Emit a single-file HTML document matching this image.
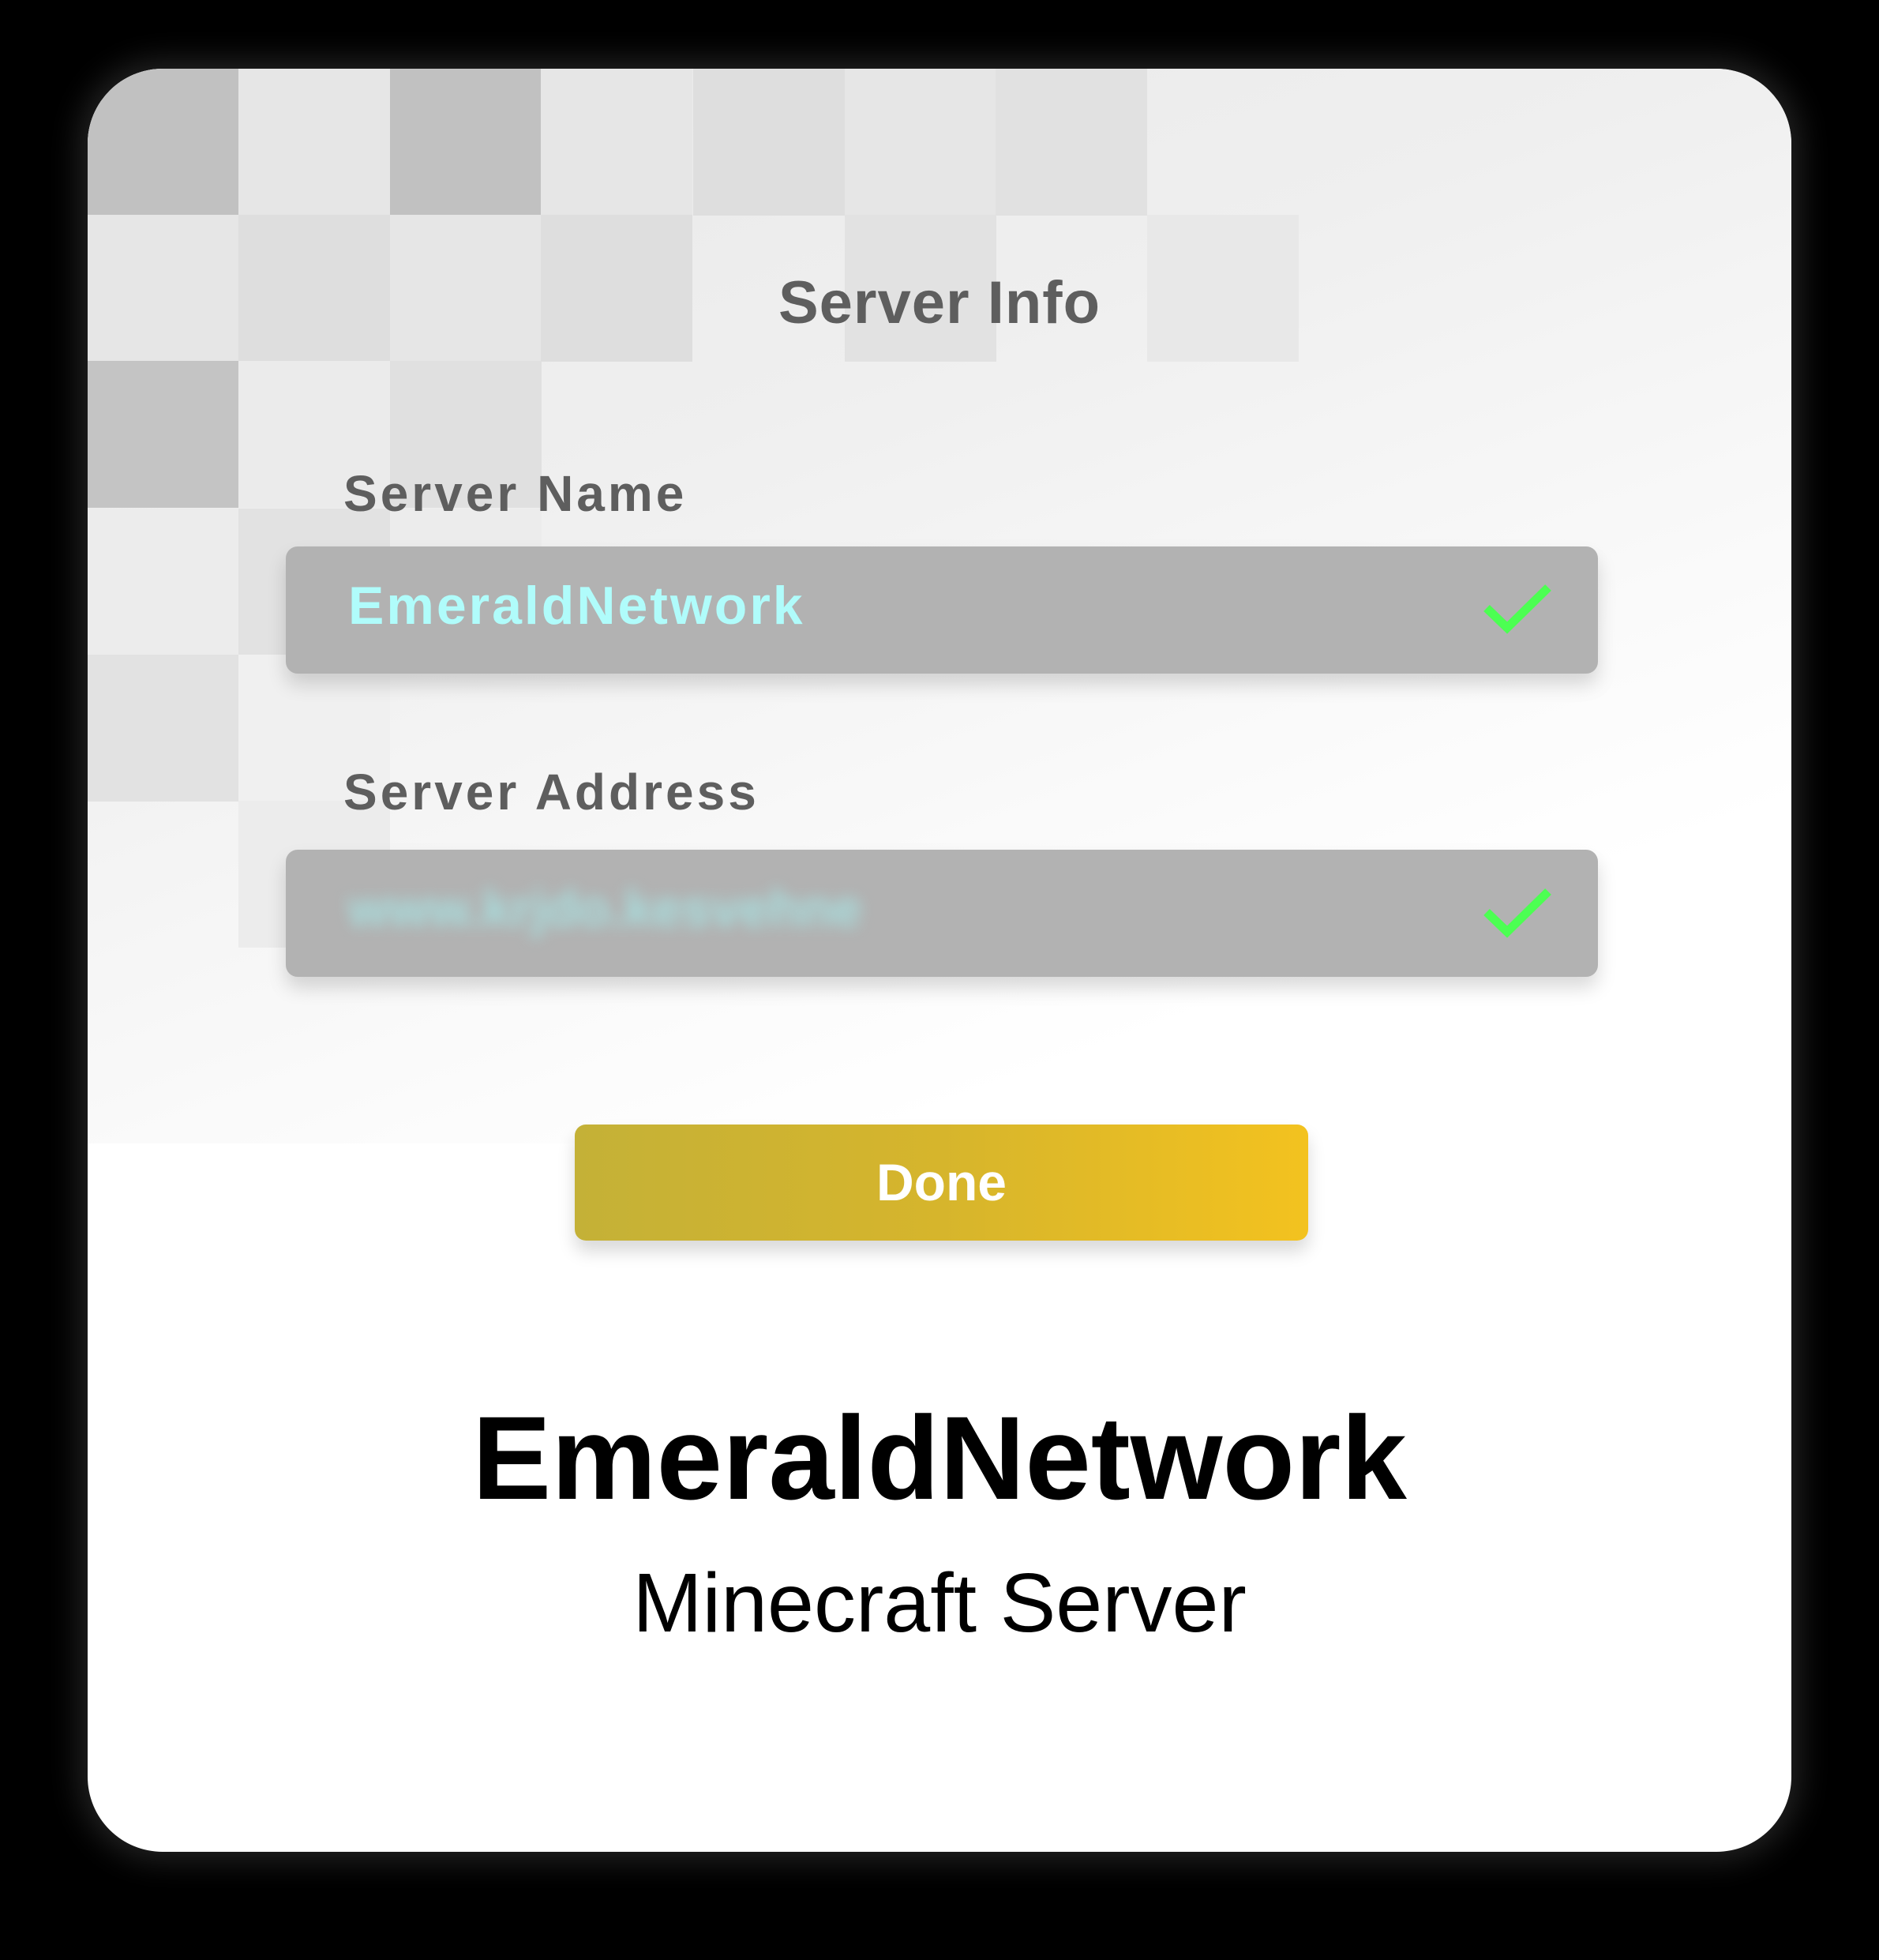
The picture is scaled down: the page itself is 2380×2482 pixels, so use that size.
<!DOCTYPE html>
<html><head><style>
html,body{margin:0;padding:0;background:#000;width:2380px;height:2482px;overflow:hidden;font-family:"Liberation Sans",sans-serif}
.card{position:absolute;left:111px;top:87px;width:2158px;height:2258px;border-radius:95px;background:#fff;overflow:hidden;box-shadow:0 0 40px 10px rgba(60,60,60,.6)}
.top{position:absolute;left:0;top:0;width:2158px;height:1361px;background:linear-gradient(160deg,#e8e8e8 0%,#efefef 35%,#fafafa 65%,#fff 80%)}
.sq{position:absolute;width:192px;height:186px}
.lbl{position:absolute;color:#5e5e5e;font-weight:bold;font-size:64px;white-space:nowrap;letter-spacing:4px}
.inp{position:absolute;left:251px;width:1662px;height:161px;background:#b2b2b2;border-radius:15px;box-shadow:0 14px 24px rgba(0,0,0,.15)}
</style></head><body>
<div class="card">
<div class="top">
<div class="sq" style="left:0;top:0;background:#c1c1c1"></div>
<div class="sq" style="left:191px;top:0;background:#e6e6e6"></div>
<div class="sq" style="left:383px;top:0;background:#c1c1c1"></div>
<div class="sq" style="left:574px;top:0;background:#e6e6e6"></div>
<div class="sq" style="left:767px;top:0;background:#dedede"></div>
<div class="sq" style="left:959px;top:0;background:#e6e6e6"></div>
<div class="sq" style="left:1150px;top:0;background:#e1e1e1"></div>
<div class="sq" style="left:0;top:185px;background:#e6e6e6"></div>
<div class="sq" style="left:191px;top:185px;background:#dedede"></div>
<div class="sq" style="left:383px;top:185px;background:#e6e6e6"></div>
<div class="sq" style="left:574px;top:185px;background:#dedede"></div>
<div class="sq" style="left:959px;top:185px;background:#e2e2e2"></div>
<div class="sq" style="left:1342px;top:185px;background:#e8e8e8"></div>
<div class="sq" style="left:0;top:370px;background:#c4c4c4"></div>
<div class="sq" style="left:191px;top:370px;background:#ebebeb"></div>
<div class="sq" style="left:383px;top:370px;background:#e0e0e0"></div>
<div class="sq" style="left:0;top:557px;background:#ececec"></div>
<div class="sq" style="left:191px;top:557px;background:#e2e2e2"></div>
<div class="sq" style="left:383px;top:557px;background:#ececec"></div>
<div class="sq" style="left:0;top:742px;background:#e2e2e2"></div>
<div class="sq" style="left:191px;top:742px;background:#f0f0f0"></div>
<div class="sq" style="left:191px;top:927px;background:#ececec"></div>
</div>
</div>
<div class="lbl" style="left:0;width:2380px;text-align:center;top:340px;font-size:76px;letter-spacing:1px">Server Info</div>
<div class="lbl" style="left:435px;top:588px">Server Name</div>
<div class="lbl" style="left:435px;top:966px">Server Address</div>
<div class="inp" style="left:362px;top:692px"></div>
<div class="inp" style="left:362px;top:1076px"></div>
<div style="position:absolute;left:441px;top:728px;font-size:68px;font-weight:bold;color:#b0fcfb;letter-spacing:3px">EmeraldNetwork</div>
<div style="position:absolute;left:441px;top:1112px;font-size:66px;font-weight:bold;color:#a8dede;filter:blur(9px)">www.krjdo.kesvehne</div>
<svg style="position:absolute;left:0;top:0" width="2380" height="2482">
<polyline points="1883,770 1909,795 1961,744" fill="none" stroke="#4cff52" stroke-width="11"/>
<polyline points="1883,1155 1909,1180 1961,1129" fill="none" stroke="#4cff52" stroke-width="11"/>
</svg>
<div style="position:absolute;left:728px;top:1424px;width:929px;height:147px;border-radius:14px;background:linear-gradient(90deg,#c4b137,#d6b52c 50%,#f3c21f);box-shadow:0 14px 22px rgba(0,0,0,.15);color:#fff;font-weight:bold;font-size:66px;text-align:center;line-height:147px">Done</div>
<div style="position:absolute;left:0;width:2380px;text-align:center;top:1760px;font-size:150px;font-weight:bold;color:#000;letter-spacing:0px">EmeraldNetwork</div>
<div style="position:absolute;left:0;width:2380px;text-align:center;top:1970px;font-size:106px;color:#000">Minecraft Server</div>
</body></html>
